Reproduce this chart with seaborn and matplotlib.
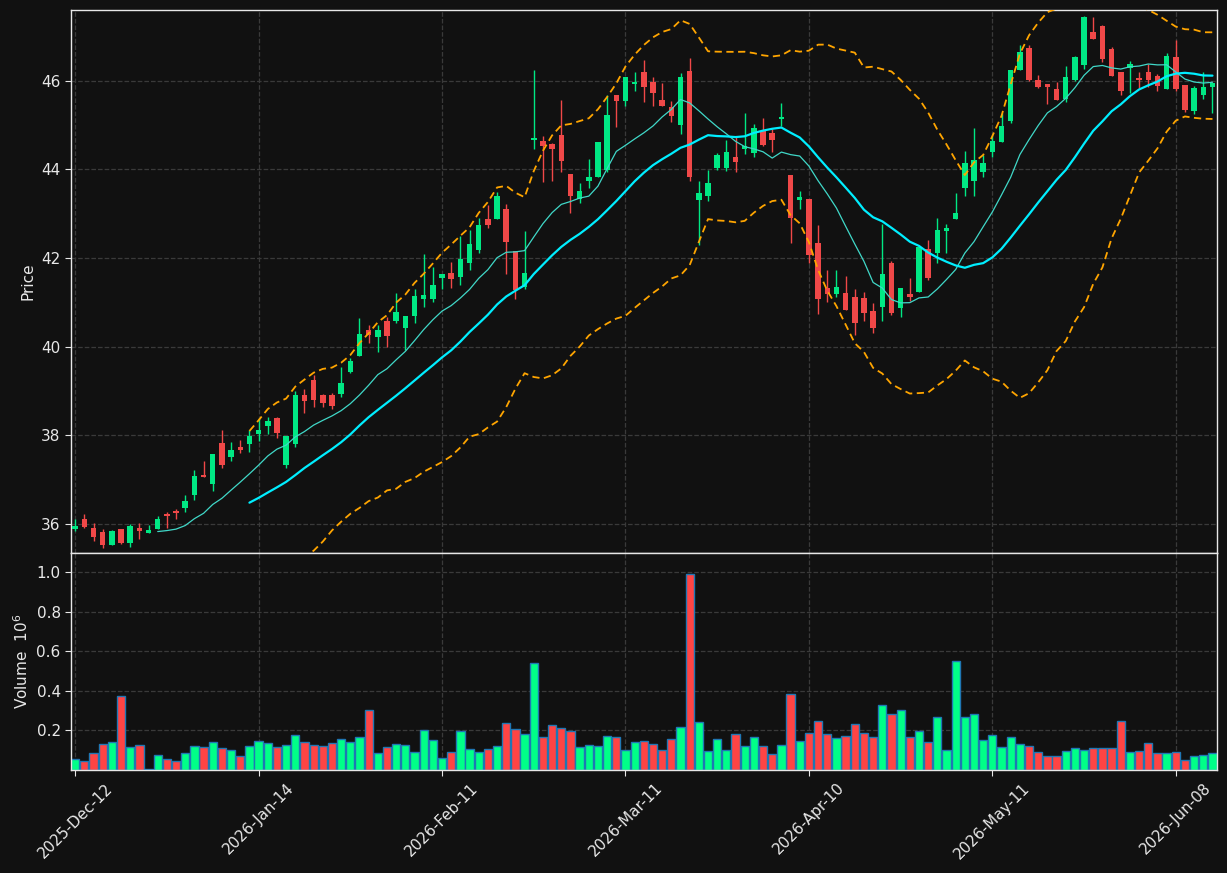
import pandas as pd
import numpy as np
import matplotlib
matplotlib.use('Agg')
import matplotlib.pyplot as plt
import seaborn as sns


# daily OHLC (one row per trading session)
opens = [35.89, 36.11, 35.91, 35.82, 35.53, 35.89, 35.58, 35.91, 35.80, 35.89,
         36.22, 36.29, 36.37, 36.65, 37.10, 36.91, 37.83, 37.50, 37.74, 37.81,
         38.03, 38.20, 38.40, 37.33, 37.81, 38.90, 39.25, 38.90, 38.91, 38.93,
         39.42, 39.80, 40.38, 40.21, 40.58, 40.57, 40.43, 40.70, 41.08, 41.08,
         41.55, 41.67, 41.58, 41.88, 42.19, 42.88, 42.88, 43.11, 42.15, 41.34,
         44.67, 44.65, 44.58, 44.78, 43.90, 43.34, 43.74, 43.82, 43.99, 45.68,
         45.55, 45.94, 46.20, 45.98, 45.57, 45.41, 45.01, 46.23, 43.31, 43.39,
         44.03, 44.03, 44.28, 44.47, 44.37, 44.87, 44.83, 45.15, 43.88, 43.30,
         43.34, 42.34, 41.32, 41.19, 41.21, 41.12, 41.09, 40.81, 40.89, 41.88,
         40.87, 41.19, 41.24, 42.20, 42.12, 42.62, 42.88, 43.59, 43.73, 43.95,
         44.40, 44.63, 45.10, 46.25, 46.74, 46.02, 45.93, 45.82, 45.59, 46.01,
         46.36, 47.11, 47.23, 46.72, 46.20, 46.30, 46.06, 46.20, 46.10, 45.82,
         46.53, 45.91, 45.31, 45.68, 45.87]
highs = [36.11, 36.22, 36.02, 35.88, 35.86, 35.89, 35.99, 36.02, 35.98, 36.18,
         36.26, 36.34, 36.65, 37.22, 37.42, 37.58, 38.12, 37.84, 37.89, 38.12,
         38.39, 38.42, 38.42, 37.99, 38.99, 39.05, 39.36, 38.93, 38.96, 39.54,
         39.74, 40.64, 40.49, 40.49, 40.68, 41.21, 40.70, 41.30, 42.09, 41.81,
         41.64, 41.92, 42.49, 42.64, 42.90, 43.20, 43.50, 43.22, 42.15, 42.61,
         46.25, 44.76, 44.59, 45.57, 43.90, 43.69, 44.24, 44.63, 45.68, 45.68,
         46.09, 46.21, 46.47, 46.08, 45.95, 45.55, 46.17, 46.51, 43.73, 43.98,
         44.38, 44.67, 44.74, 45.28, 45.03, 45.16, 44.91, 45.50, 43.88, 43.52,
         43.34, 42.75, 41.72, 41.72, 41.60, 41.30, 41.23, 40.98, 42.76, 41.94,
         41.32, 41.55, 42.26, 42.41, 42.90, 42.77, 43.47, 44.42, 44.93, 44.33,
         44.78, 45.28, 46.25, 46.81, 46.81, 46.13, 45.93, 45.98, 46.34, 46.57,
         47.47, 47.45, 47.26, 46.76, 46.20, 46.45, 46.21, 46.38, 46.16, 46.63,
         46.93, 45.91, 45.89, 46.21, 45.98]
lows = [35.84, 35.90, 35.61, 35.45, 35.53, 35.55, 35.48, 35.66, 35.80, 35.89,
        35.91, 36.11, 36.26, 36.53, 37.05, 36.75, 37.26, 37.43, 37.60, 37.63,
        37.87, 38.02, 37.94, 37.26, 37.74, 38.51, 38.63, 38.63, 38.60, 38.87,
        39.40, 39.80, 40.09, 39.88, 39.99, 40.53, 39.93, 40.53, 40.90, 41.02,
        41.30, 41.32, 41.40, 41.73, 42.12, 42.69, 42.88, 41.64, 41.07, 41.30,
        44.46, 43.71, 43.75, 43.95, 43.01, 43.25, 43.58, 43.82, 43.95, 44.95,
        45.44, 45.78, 45.53, 45.44, 45.44, 45.06, 44.80, 43.75, 42.30, 43.28,
        43.98, 43.97, 43.94, 44.35, 44.29, 44.52, 44.39, 44.97, 42.34, 43.10,
        41.88, 40.73, 41.00, 41.13, 40.83, 40.27, 40.57, 40.30, 40.57, 40.72,
        40.67, 41.03, 41.24, 41.51, 41.90, 42.11, 42.88, 43.40, 43.39, 43.84,
        44.28, 44.63, 45.05, 46.25, 46.00, 45.84, 45.47, 45.56, 45.53, 46.00,
        46.26, 46.95, 46.42, 46.10, 45.68, 45.72, 45.84, 45.86, 45.76, 45.82,
        45.76, 45.29, 45.26, 45.59, 45.27]
closes = [35.95, 35.92, 35.71, 35.53, 35.84, 35.58, 35.95, 35.83, 35.86, 36.11,
          36.17, 36.25, 36.52, 37.08, 37.05, 37.58, 37.34, 37.67, 37.67, 37.99,
          38.11, 38.33, 38.06, 37.99, 38.91, 38.78, 38.80, 38.74, 38.67, 39.18,
          39.68, 40.29, 40.27, 40.38, 40.25, 40.79, 40.70, 41.15, 41.17, 41.40,
          41.64, 41.53, 41.98, 42.32, 42.75, 42.75, 43.40, 42.37, 41.27, 41.67,
          44.72, 44.54, 44.47, 44.18, 43.40, 43.52, 43.84, 44.63, 45.23, 45.55,
          46.09, 45.98, 45.85, 45.73, 45.44, 45.21, 46.09, 43.84, 43.47, 43.69,
          44.33, 44.39, 44.16, 44.53, 44.93, 44.56, 44.67, 45.19, 42.90, 43.37,
          42.07, 41.08, 41.19, 41.34, 40.83, 40.53, 40.76, 40.43, 41.64, 40.77,
          41.32, 41.13, 42.26, 41.55, 42.64, 42.67, 43.01, 44.14, 44.22, 44.14,
          44.65, 44.98, 46.25, 46.65, 46.02, 45.86, 45.86, 45.56, 46.09, 46.53,
          47.45, 46.95, 46.50, 46.10, 45.76, 46.38, 46.02, 46.02, 45.89, 46.56,
          45.82, 45.35, 45.84, 45.86, 45.95]
# volume in millions
volumes = [0.057, 0.044, 0.084, 0.129, 0.143, 0.376, 0.114, 0.127, 0.007, 0.074,
           0.057, 0.044, 0.084, 0.119, 0.114, 0.143, 0.109, 0.102, 0.069, 0.122,
           0.148, 0.138, 0.114, 0.127, 0.178, 0.143, 0.127, 0.119, 0.138, 0.158,
           0.143, 0.168, 0.305, 0.084, 0.114, 0.133, 0.127, 0.092, 0.203, 0.153,
           0.062, 0.092, 0.198, 0.104, 0.089, 0.104, 0.119, 0.235, 0.205, 0.180,
           0.542, 0.165, 0.225, 0.210, 0.195, 0.114, 0.124, 0.119, 0.170, 0.165,
           0.099, 0.139, 0.144, 0.129, 0.099, 0.154, 0.215, 0.990, 0.240, 0.094,
           0.154, 0.099, 0.180, 0.119, 0.165, 0.119, 0.079, 0.124, 0.386, 0.144,
           0.185, 0.245, 0.180, 0.160, 0.170, 0.230, 0.185, 0.165, 0.330, 0.283,
           0.305, 0.165, 0.195, 0.139, 0.270, 0.102, 0.552, 0.270, 0.285, 0.149,
           0.175, 0.114, 0.165, 0.129, 0.119, 0.089, 0.069, 0.069, 0.094, 0.109,
           0.099, 0.109, 0.109, 0.109, 0.245, 0.089, 0.094, 0.134, 0.084, 0.084,
           0.089, 0.049, 0.069, 0.074, 0.084]
tick_labels = ['2025-Dec-12', '2026-Jan-14', '2026-Feb-11', '2026-Mar-11',
               '2026-Apr-10', '2026-May-11', '2026-Jun-08']

df = pd.DataFrame({'Open': opens, 'High': highs, 'Low': lows,
                   'Close': closes, 'Volume': volumes})
df['idx'] = np.arange(len(df))
df['up'] = df['Close'] >= df['Open']
df['ma10'] = df['Close'].rolling(10).mean()
df['ma20'] = df['Close'].rolling(20).mean()
std20 = df['Close'].rolling(20).std()
df['bb_up'] = df['ma20'] + 2 * std20
df['bb_lo'] = df['ma20'] - 2 * std20

BG = '#111111'
GREEN = '#00ff88'
RED = '#ff4444'
sns.set_style('dark', {'axes.facecolor': BG, 'figure.facecolor': BG,
                       'grid.color': '#3a3a3a', 'grid.linestyle': '--',
                       'axes.edgecolor': '#e8e8e8', 'text.color': '#e8e8e8',
                       'xtick.color': '#e8e8e8', 'ytick.color': '#e8e8e8',
                       'axes.labelcolor': '#e8e8e8',
                       'xtick.bottom': True, 'ytick.left': True})
plt.rcParams['font.family'] = ['DejaVu Sans']
plt.rcParams['font.size'] = 11

fig = plt.figure(figsize=(12.27, 8.73), dpi=100)
ax1 = fig.add_axes([0.0579, 0.3666, 0.934, 0.6220])
ax2 = fig.add_axes([0.0579, 0.1180, 0.934, 0.2486], sharex=ax1)

# candles
colors = np.where(df['up'], '#00e884', '#f04848')
ax1.vlines(df['idx'], df['Low'], df['High'], colors=colors, linewidth=1, zorder=3)
body_lo = df[['Open', 'Close']].min(axis=1)
body_h = (df['Close'] - df['Open']).abs().clip(lower=0.03)
ax1.bar(df['idx'], body_h, bottom=body_lo, width=0.6, color=colors,
        linewidth=0, zorder=4)

# moving averages and bands
ax1.plot(df['idx'], df['ma10'], color='#40d8c8', linewidth=0.9, zorder=5)
ax1.plot(df['idx'], df['ma20'], color='#00eeff', linewidth=1.6, zorder=5)
ax1.plot(df['idx'], df['bb_up'], color='#ffa500', linewidth=1.3,
         linestyle=(0, (4, 2.5)), zorder=5)
ax1.plot(df['idx'], df['bb_lo'], color='#ffa500', linewidth=1.3,
         linestyle=(0, (4, 2.5)), zorder=5)

ax1.set_ylim(35.345, 47.6)
ax1.set_yticks([36, 38, 40, 42, 44, 46])
ax1.set_ylabel('Price')
ax1.grid(True, color='#3a3a3a', linestyle='--', linewidth=0.9)
ax1.tick_params(labelbottom=False, length=4)

# volume
sns.barplot(data=df, x='idx', y='Volume', hue='up', dodge=False,
            palette={True: GREEN, False: RED}, saturation=1, width=0.9,
            edgecolor='#1f77b4', linewidth=1.0, legend=False, ax=ax2)
ax2.set_ylim(0, 1.096)
ax2.set_yticks([0.2, 0.4, 0.6, 0.8, 1.0])
ax2.set_ylabel('Volume  $10^{6}$')
ax2.set_xlabel('')
ax2.grid(True, color='#3a3a3a', linestyle='--', linewidth=0.9)

ticks = np.arange(0, len(df), 20)
ax2.set_xticks(ticks)
ax2.set_xticklabels(tick_labels, rotation=45)
ax2.set_xlim(-0.45, len(df) - 0.5)
ax2.tick_params(length=4)
for ax in (ax1, ax2):
    for s in ax.spines.values():
        s.set_color('#e8e8e8')
        s.set_linewidth(1.0)

fig.savefig('out.png', dpi=100, facecolor=BG)
